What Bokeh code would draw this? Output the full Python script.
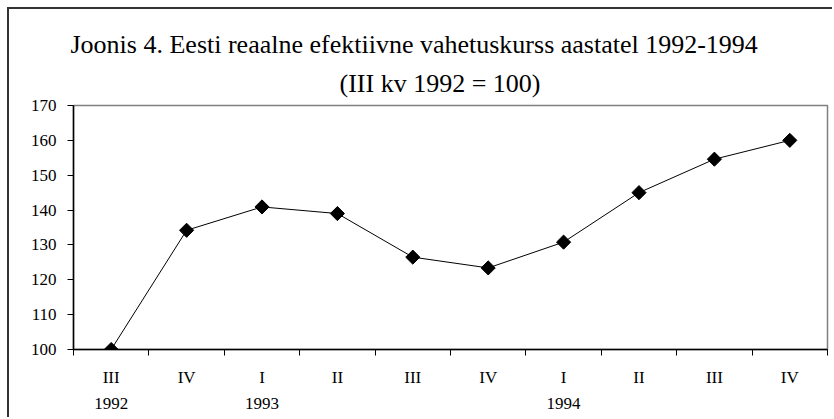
import numpy as np
from bokeh.plotting import figure
from bokeh.models import Range1d, FixedTicker, LinearAxis, Title
from bokeh.embed import file_html
from bokeh.resources import INLINE

# ---- data ----
quarters = ["III", "IV", "I", "II", "III", "IV", "I", "II", "III", "IV"]
years = ["1992", "", "1993", "", "", "", "1994", "", "", ""]
values = [100.0, 134.2, 140.9, 139.0, 126.5, 123.4, 130.8, 145.0, 154.6, 160.0]
y_ticks = [100, 110, 120, 130, 140, 150, 160, 170]
title_text = "Joonis 4. Eesti reaalne efektiivne vahetuskurss aastatel 1992-1994"
subtitle_text = "(III kv 1992 = 100)"

FONT = "Liberation Serif"
n = len(quarters)
xs = [i + 0.5 for i in range(n)]

W, H = 825, 410
FL, FT, FW, FH = 64, 96, 754, 244

p = figure(width=W, height=H, output_backend="svg", toolbar_location=None,
           x_range=Range1d(0, n), y_range=Range1d(min(y_ticks), max(y_ticks)),
           min_border_left=FL, min_border_right=W - FL - FW,
           min_border_top=FT, min_border_bottom=H - FT - FH,
           x_axis_location=None)
p.title.visible = False
p.styles = {"border-left": "2px solid #333", "border-top": "2px solid #333",
            "margin-left": "7px", "margin-top": "7px"}
p.grid.visible = False
p.outline_line_color = "#808080"
p.outline_line_width = 1.5
p.background_fill_color = "white"
p.border_fill_color = "white"

# y axis
ya = p.yaxis[0]
ya.ticker = FixedTicker(ticks=y_ticks, minor_ticks=[])
ya.major_tick_out = 6
ya.major_tick_in = 0
ya.minor_tick_line_color = None
ya.axis_line_color = "black"
ya.axis_line_width = 1.5
ya.major_tick_line_color = "black"
ya.major_label_standoff = 11
ya.major_label_text_font = FONT
ya.major_label_text_font_size = "17px"
ya.major_label_text_color = "black"

# x axis: quarters
xa = LinearAxis(ticker=FixedTicker(ticks=xs, minor_ticks=list(range(n + 1))),
                major_label_overrides={x: q for x, q in zip(xs, quarters)},
                major_tick_line_color=None, major_tick_out=0, major_tick_in=0,
                minor_tick_out=6, minor_tick_in=0, minor_tick_line_color="black",
                axis_line_color="black", axis_line_width=1.5,
                major_label_standoff=12, major_label_text_font=FONT,
                major_label_text_font_size="17px", major_label_text_color="black")
p.add_layout(xa, "below")

# x axis: years
yr_ticks = [x for x, y in zip(xs, years) if y]
xa2 = LinearAxis(ticker=FixedTicker(ticks=yr_ticks, minor_ticks=[]),
                 major_label_overrides={x: y for x, y in zip(xs, years) if y},
                 axis_line_color=None, major_tick_line_color=None, minor_tick_line_color=None,
                 major_tick_out=0, major_tick_in=0,
                 major_label_standoff=8, major_label_text_font=FONT,
                 major_label_text_font_size="17px", major_label_text_color="black")
p.add_layout(xa2, "below")

p.line(xs, values, line_color="black", line_width=1)
p.scatter(xs, values, marker="square", size=10, angle=np.pi / 4,
          fill_color="black", line_color="black")

# titles (first added sits closest to the frame)
p.add_layout(Title(text=subtitle_text, align="left", offset=266, standoff=16,
                   text_font=FONT, text_font_size="26px", text_font_style="normal",
                   text_color="black"), "above")
p.add_layout(Title(text=title_text, align="left", offset=-3, standoff=0,
                   text_font=FONT, text_font_size="26px", text_font_style="normal",
                   text_color="black"), "above")

open("out.html", "w").write(file_html(p, INLINE))
